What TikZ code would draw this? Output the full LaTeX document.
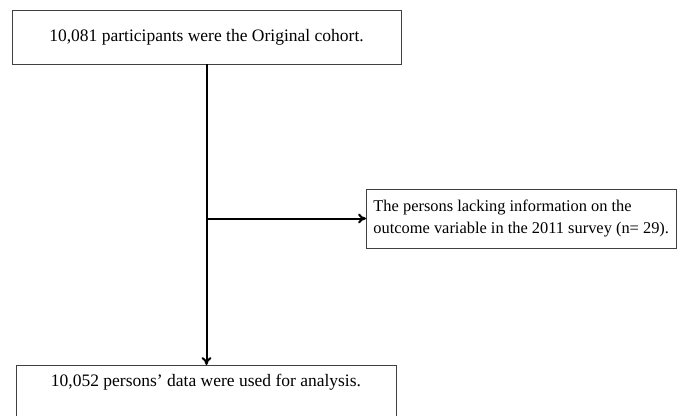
\documentclass[tikz,border=0pt]{standalone}
\usepackage{fontspec}
\setmainfont{Liberation Serif}
\usetikzlibrary{arrows.meta}

\tikzset{
  flowbox/.style={draw=black!75, line width=0.9pt, fill=white, inner sep=6pt},
  flowline/.style={line width=2pt, black},
  flowarrow/.style={flowline, -{To[length=8pt,width=10pt]}}
}

\begin{document}
\begin{tikzpicture}[x=1pt, y=-1pt, font=\fontsize{17.5}{22}\selectfont]
  \useasboundingbox (0,0) rectangle (684,415);

  \node[flowbox, minimum width=389pt, minimum height=54pt] (cohort) at (206.5,37)
       {10,081 participants were the Original cohort.};
  \node[flowbox, anchor=west, align=left, inner xsep=7pt, minimum width=306pt, minimum height=59pt,
        font=\fontsize{16.4}{22}\selectfont] (lacking) at (366,218.5)
       {The persons lacking information on the\\outcome variable in the 2011 survey (n= 29).};
  \node[flowbox, anchor=north, minimum width=380pt, text height=15pt, text depth=45pt] (analysis) at (206,365)
       {10,052 persons' data were used for analysis.};

  \coordinate (split) at (cohort.south |- lacking.west);

  \draw[flowarrow] (cohort.south) -- (cohort.south |- analysis.north);
  \draw[flowarrow] (split) -- (lacking.west);
\end{tikzpicture}
\end{document}
